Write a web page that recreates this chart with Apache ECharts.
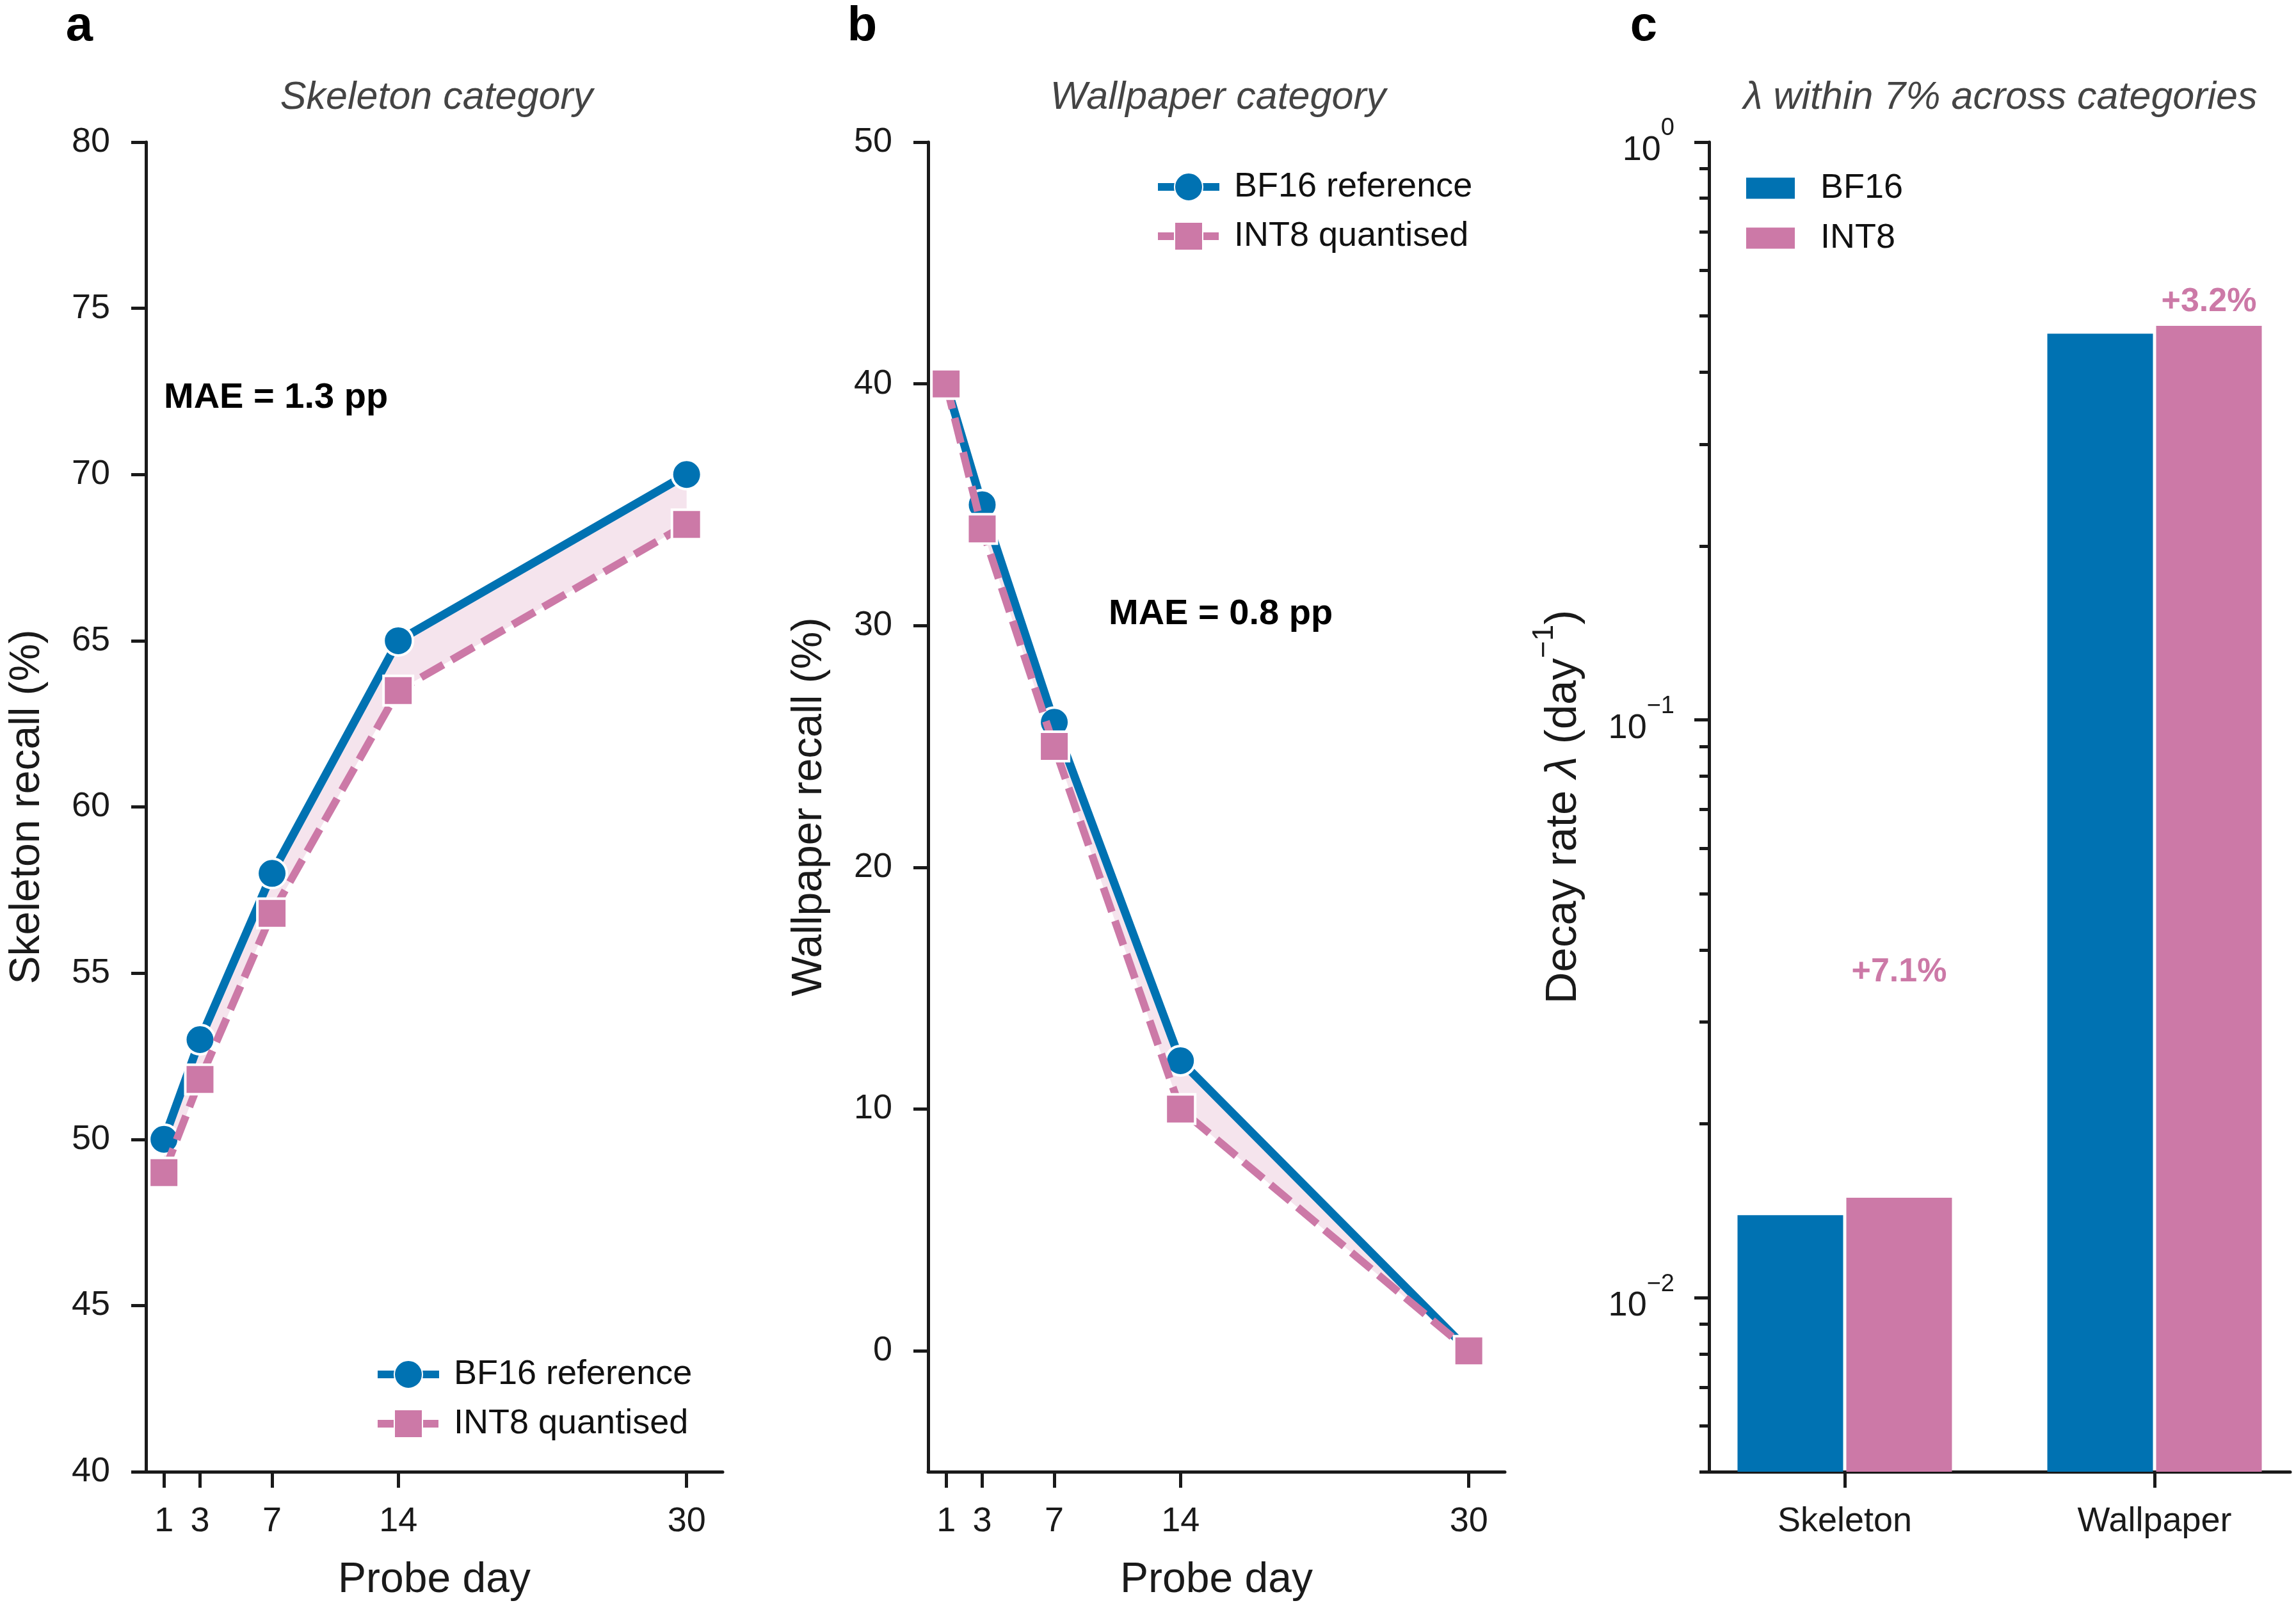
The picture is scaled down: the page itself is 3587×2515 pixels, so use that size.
<!DOCTYPE html>
<html>
<head>
<meta charset="utf-8">
<script src="https://cdn.jsdelivr.net/npm/echarts@6/dist/echarts.min.js"></script>
<style>
html, body { margin: 0; padding: 0; background: #fff; }
#main { width: 3587px; height: 2515px; }
</style>
</head>
<body>
<div id="main"></div>
<script>
// probe days and recall values (%)
var days = [1, 3, 7, 14, 30];
var skeletonBF16 = [50, 53, 58, 65, 70];
var skeletonINT8 = [49, 51.8, 56.8, 63.5, 68.5];
var wallpaperBF16 = [40, 35, 26, 12, 0];
var wallpaperINT8 = [40, 34, 25, 10, 0];
var skeletonTicks = [40, 45, 50, 55, 60, 65, 70, 75, 80];
var wallpaperTicks = [0, 10, 20, 30, 40, 50];

// decay rates (day^-1)
var categories = ['Skeleton', 'Wallpaper'];
var lambdaBF16 = [0.0139, 0.466];
var lambdaINT8 = [0.0149, 0.481];
var lambdaMajorTicks = [0.01, 0.1, 1];
var lambdaMinorTicks = [0.005, 0.006, 0.007, 0.008, 0.009,
    0.02, 0.03, 0.04, 0.05, 0.06, 0.07, 0.08, 0.09,
    0.2, 0.3, 0.4, 0.5, 0.6, 0.7, 0.8, 0.9];
var deltaLabels = ['+7.1%', '+3.2%'];
var deltaLabelY = [0.0366, 0.529];

var blue = '#0072B2';
var pink = '#CC79A7';
var ink = '#1a1a1a';
var font = 'Liberation Sans';
var lambdaMin = 0.005;
var barWidth = 165;
var barStep = 85;

var chart = echarts.init(document.getElementById('main'));

function pairs(xs, ys) {
    return xs.map(function (x, i) { return [x, ys[i]]; });
}

function axisBase(extra) {
    var a = {
        axisLine: { show: true, onZero: false, lineStyle: { color: ink, width: 5 } },
        axisTick: { show: true, length: 24, lineStyle: { color: ink, width: 5 } },
        axisLabel: { color: ink, fontSize: 54, fontFamily: font },
        splitLine: { show: false },
        nameTextStyle: { color: ink, fontSize: 66, fontFamily: font }
    };
    for (var k in extra) {
        if (a[k] && typeof extra[k] === 'object') {
            for (var j in extra[k]) a[k][j] = extra[k][j];
        } else {
            a[k] = extra[k];
        }
    }
    return a;
}

// shaded band between BF16 and INT8
function bandItem(bf, q) {
    return function (params, api) {
        if (params.dataIndex !== 0) return;
        var pts = [];
        for (var i = 0; i < days.length; i++) pts.push(api.coord([days[i], bf[i]]));
        for (var j = days.length - 1; j >= 0; j--) pts.push(api.coord([days[j], q[j]]));
        return { type: 'polygon', shape: { points: pts }, style: { fill: 'rgba(204,121,167,0.2)' } };
    };
}

function barItem(offset) {
    return function (params, api) {
        var top = api.coord([api.value(0), api.value(1)]);
        var base = api.coord([api.value(0), lambdaMin]);
        return {
            type: 'rect',
            shape: { x: top[0] + offset - barWidth / 2, y: top[1], width: barWidth, height: base[1] - top[1] },
            style: { fill: api.visual('color') }
        };
    };
}

function recallSeries(gi, bf, q) {
    return [
        {
            type: 'custom', xAxisIndex: gi, yAxisIndex: gi, z: 1, silent: true,
            data: days.map(function (d, i) { return [d, bf[i], q[i]]; }),
            encode: { x: 0, y: [1, 2] },
            renderItem: bandItem(bf, q)
        },
        {
            name: 'BF16 reference', type: 'line', xAxisIndex: gi, yAxisIndex: gi, z: 2,
            data: pairs(days, bf),
            symbol: 'circle', symbolSize: 46,
            lineStyle: { color: blue, width: 13 },
            itemStyle: { color: blue, borderColor: '#fff', borderWidth: 4 }
        },
        {
            name: 'INT8 quantised', type: 'line', xAxisIndex: gi, yAxisIndex: gi, z: 3,
            data: pairs(days, q),
            symbol: 'rect', symbolSize: 46,
            lineStyle: { color: pink, width: 12, type: [40, 15] },
            itemStyle: { color: pink, borderColor: '#fff', borderWidth: 4 }
        }
    ];
}

function lineLegend(left, top) {
    return {
        data: ['BF16 reference', 'INT8 quantised'],
        orient: 'vertical', left: left, top: top,
        itemWidth: 96, itemHeight: 55, itemGap: 23,
        lineStyle: { width: 12 },
        textStyle: { fontSize: 54, color: '#111', fontFamily: font, padding: [0, 0, 0, 18] }
    };
}

function label(text, x, y, style, align) {
    var s = { fontFamily: font };
    for (var k in style) s[k] = style[k];
    return { text: text, left: x, top: y, padding: 0, textAlign: align || 'center', textVerticalAlign: 'middle', textStyle: s };
}

var letterStyle = { fontSize: 76, fontWeight: 'bold', color: '#000' };
var titleStyle = { fontSize: 61, fontStyle: 'italic', fontWeight: 'normal', color: '#444' };
var maeStyle = { fontSize: 56, fontWeight: 'bold', color: '#000' };

var option = {
    animation: false,
    backgroundColor: '#fff',
    textStyle: { fontFamily: font },
    title: [
        label('a', 124, 42, letterStyle),
        label('b', 1347, 42, letterStyle),
        label('c', 2568, 42, letterStyle),
        label('Skeleton category', 682, 153, titleStyle),
        label('Wallpaper category', 1903, 153, titleStyle),
        label('λ within 7% across categories', 3125, 153, titleStyle),
        label('MAE = 1.3 pp', 256, 622, maeStyle, 'left'),
        label('MAE = 0.8 pp', 1732, 960, maeStyle, 'left')
    ],
    legend: [
        lineLegend(579, 2115),
        lineLegend(1798, 260),
        {
            data: ['BF16', 'INT8'],
            orient: 'vertical', left: 2723, top: 262,
            icon: 'rect', itemWidth: 76, itemHeight: 33, itemGap: 24,
            textStyle: { fontSize: 54, color: '#111', fontFamily: font, padding: [0, 0, 0, 35] }
        }
    ],
    grid: [
        { left: 228, top: 222, width: 901, height: 2077, outerBoundsMode: 'none' },
        { left: 1450, top: 222, width: 901, height: 2077, outerBoundsMode: 'none' },
        { left: 2670, top: 222, width: 908, height: 2077, outerBoundsMode: 'none' }
    ],
    xAxis: [
        axisBase({
            type: 'value', gridIndex: 0, min: 0, max: 32,
            axisTick: { customValues: days, length: 25 },
            axisLabel: { customValues: days, margin: 51 },
            name: 'Probe day', nameLocation: 'middle', nameGap: 137
        }),
        axisBase({
            type: 'value', gridIndex: 1, min: 0, max: 32,
            axisTick: { customValues: days, length: 25 },
            axisLabel: { customValues: days, margin: 51 },
            name: 'Probe day', nameLocation: 'middle', nameGap: 137
        }),
        axisBase({
            type: 'value', gridIndex: 2, min: -0.438, max: 1.438,
            axisTick: { customValues: [0, 1], length: 25 },
            axisLabel: {
                customValues: [0, 1], margin: 51,
                formatter: function (v) { return categories[Math.round(v)]; }
            }
        })
    ],
    yAxis: [
        axisBase({
            type: 'value', gridIndex: 0, min: 40, max: 80,
            axisTick: { customValues: skeletonTicks, length: 23 },
            axisLabel: { customValues: skeletonTicks, margin: 56 },
            name: 'Skeleton recall (%)', nameLocation: 'middle', nameRotate: 90, nameGap: 152
        }),
        axisBase({
            type: 'value', gridIndex: 1, min: -5, max: 50,
            axisTick: { customValues: wallpaperTicks, length: 23 },
            axisLabel: { customValues: wallpaperTicks, margin: 56 },
            name: 'Wallpaper recall (%)', nameLocation: 'middle', nameRotate: 90, nameGap: 152
        }),
        axisBase({
            type: 'log', logBase: 10, gridIndex: 2, min: lambdaMin, max: 1, position: 'left',
            axisTick: { customValues: lambdaMajorTicks, length: 23 },
            axisLabel: {
                customValues: lambdaMajorTicks, margin: 54,
                formatter: function (v) {
                    var e = Math.round(Math.log10(v));
                    return '{b|10}{s|' + (e < 0 ? '\u2212' + (-e) : e) + '}';
                },
                rich: {
                    b: { fontSize: 54, color: ink, fontFamily: font, padding: [26, 0, 0, 0] },
                    s: { fontSize: 38, color: ink, fontFamily: font, verticalAlign: 'top' }
                }
            },
            name: '{n|Decay rate }{i|λ}{n| (day}{s|\u22121}{n|)}',
            nameLocation: 'middle', nameRotate: 90, nameGap: 193,
            nameTextStyle: {
                rich: {
                    n: { fontSize: 69, color: ink, fontFamily: font, padding: [18, 0, 0, 0] },
                    i: { fontSize: 69, color: ink, fontFamily: font, fontStyle: 'italic', padding: [18, 0, 0, 0] },
                    s: { fontSize: 46, color: ink, fontFamily: font, verticalAlign: 'top' }
                }
            }
        }),
        // minor ticks of the log axis
        {
            type: 'log', logBase: 10, gridIndex: 2, min: lambdaMin, max: 1, position: 'left',
            axisLine: { show: false, onZero: false },
            axisTick: { show: true, customValues: lambdaMinorTicks, length: 15, lineStyle: { color: ink, width: 5 } },
            axisLabel: { show: false },
            splitLine: { show: false }
        }
    ],
    series: recallSeries(0, skeletonBF16, skeletonINT8)
        .concat(recallSeries(1, wallpaperBF16, wallpaperINT8))
        .concat([
            {
                name: 'BF16', type: 'custom', xAxisIndex: 2, yAxisIndex: 2,
                itemStyle: { color: blue },
                data: pairs([0, 1], lambdaBF16),
                encode: { x: 0, y: 1 },
                renderItem: barItem(-barStep)
            },
            {
                name: 'INT8', type: 'custom', xAxisIndex: 2, yAxisIndex: 2,
                itemStyle: { color: pink },
                data: pairs([0, 1], lambdaINT8),
                encode: { x: 0, y: 1 },
                renderItem: barItem(barStep)
            },
            {
                type: 'custom', xAxisIndex: 2, yAxisIndex: 2, silent: true,
                data: pairs([0, 1], deltaLabelY),
                encode: { x: 0, y: 1 },
                renderItem: function (params, api) {
                    var p = api.coord([api.value(0), api.value(1)]);
                    return {
                        type: 'text', x: p[0] + barStep, y: p[1],
                        style: {
                            text: deltaLabels[params.dataIndex], fill: pink,
                            font: 'bold 52px "Liberation Sans"', align: 'center', verticalAlign: 'middle'
                        }
                    };
                }
            }
        ])
};

chart.setOption(option);
</script>
</body>
</html>
